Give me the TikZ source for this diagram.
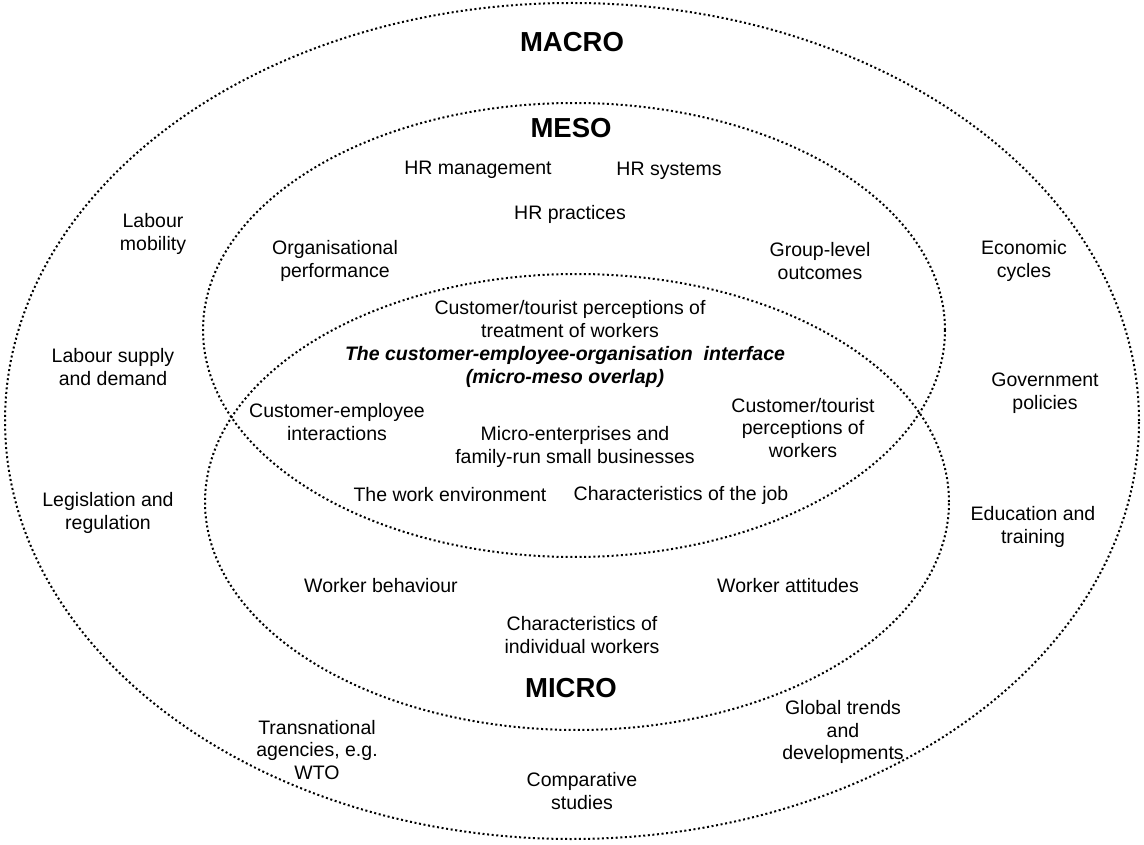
\documentclass[tikz,border=0pt]{standalone}
\usepackage{fontspec}
\setmainfont{Liberation Sans}
\begin{document}
\begin{tikzpicture}[x=1pt,y=-1pt,
  ring/.style={draw=black, line width=2pt, dash pattern=on 2pt off 2.6pt},
  lbl/.style={align=center, inner sep=0pt, font=\fontsize{19.5}{22.8}\selectfont},
  ttl/.style={align=center, inner sep=0pt, font=\fontsize{27.5}{30}\selectfont\bfseries},
  itl/.style={align=center, inner sep=0pt, font=\fontsize{19.5}{22.8}\selectfont\bfseries\itshape}]
\useasboundingbox (0,0) rectangle (1144,845);
\draw[ring] (572,421) ellipse [x radius=567pt, y radius=418pt];
\draw[ring] (574,330) ellipse [x radius=371pt, y radius=227pt];
\draw[ring] (577,502) ellipse [x radius=372pt, y radius=228pt];

\node[ttl] (macro) at (572,42) {MACRO};
\node[ttl] (meso) at (571,128) {MESO};
\node[ttl] (micro) at (571,688) {MICRO};

\node[lbl] (hrm) at (478,170) {HR management};
\node[lbl] (hrs) at (669,171) {HR systems};
\node[lbl] (hrp) at (570,214) {HR practices};
\node[lbl] (lm) at (153,234) {Labour\\mobility};
\node[lbl] (op) at (335,261) {Organisational\\performance};
\node[lbl] (glo) at (820,261) {Group-level\\outcomes};
\node[lbl] (ec) at (1024,261) {Economic\\cycles};
\node[lbl] (ctp) at (570,319) {Customer/tourist perceptions of\\treatment of workers};
\node[itl] (iface) at (565,367) {The customer-employee-organisation\ \ interface\\(micro-meso overlap)};
\node[lbl] (lsd) at (113,367) {Labour supply\\and demand};
\node[lbl] (gp) at (1045,393) {Government\\policies};
\node[lbl] (cei) at (337,422) {Customer-employee\\interactions};
\node[lbl] (ctpw) at (803,428) {Customer/tourist\\perceptions of\\workers};
\node[lbl] (me) at (575,447) {Micro-enterprises and\\family-run small businesses};
\node[lbl] (lr) at (108,513) {Legislation and\\regulation};
\node[lbl] (twe) at (450,495) {The work environment};
\node[lbl] (coj) at (681,495) {Characteristics of the job};
\node[lbl] (et) at (1033,527) {Education and\\training};
\node[lbl] (wb) at (381,586) {Worker behaviour};
\node[lbl] (wa) at (788,586) {Worker attitudes};
\node[lbl] (ciw) at (582,635) {Characteristics of\\individual workers};
\node[lbl] (ta) at (317,750) {Transnational\\agencies, e.g.\\WTO};
\node[lbl] (gt) at (843,732) {Global trends\\and\\developments};
\node[lbl] (cs) at (582,791) {Comparative\\studies};
\end{tikzpicture}
\end{document}
